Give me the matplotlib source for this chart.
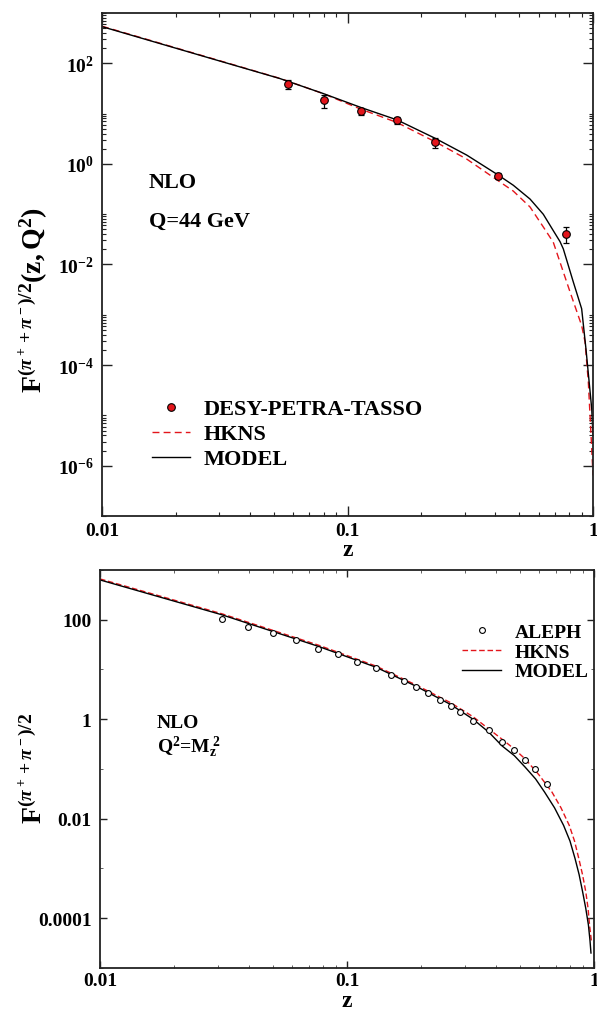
import numpy as np
import matplotlib
matplotlib.use('Agg')
from matplotlib import pyplot as plt
from matplotlib.ticker import FixedLocator, NullFormatter

plt.rcParams['font.family'] = ['Liberation Serif', 'DejaVu Serif']
plt.rcParams['font.weight'] = 'bold'
plt.rcParams['mathtext.fontset'] = 'custom'
plt.rcParams['mathtext.rm'] = 'Liberation Serif'
plt.rcParams['mathtext.bf'] = 'Liberation Serif:bold'
plt.rcParams['mathtext.it'] = 'Liberation Serif:italic'

# ---- top panel: Q = 44 GeV ----
tasso_z = [0.057, 0.080, 0.113, 0.159, 0.228, 0.411, 0.776]
tasso_f = [39.5, 18.2, 11.2, 7.3, 2.67, 0.573, 0.0405]
tasso_err = [8.0, 5.0, 1.8, 1.2, 0.6, 0.08, 0.014]

top_model_z = [0.01, 0.0251, 0.0531, 0.0795, 0.1135, 0.159, 0.228, 0.306, 0.411, 0.4735,
               0.554, 0.6275, 0.689, 0.734, 0.757, 0.831, 0.899, 0.936, 0.988, 1.0]
top_model_f = [535, 144, 49.6, 25.1, 13.2, 7.5, 3.21, 1.495, 0.60, 0.376,
               0.20, 0.0995, 0.0471, 0.0285, 0.0204, 0.00452, 0.00132, 2.11e-4, 1.36e-5, 3.97e-6]

top_hkns_z = [0.01, 0.0251, 0.0531, 0.0795, 0.1135, 0.159, 0.228, 0.306, 0.411, 0.4735,
              0.554, 0.6275, 0.689, 0.806, 0.899, 0.928, 0.957, 0.988, 1.0]
top_hkns_f = [545, 146, 50, 25, 12.2, 6.66, 2.74, 1.245, 0.462, 0.288,
              0.139, 0.0557, 0.0277, 0.00286, 6.13e-4, 2.91e-4, 4.69e-5, 2.19e-6, 6.4e-7]

# ---- bottom panel: Q^2 = Mz^2 ----
aleph_z = [0.0311, 0.0399, 0.0500, 0.0620, 0.0765, 0.0922, 0.110, 0.131, 0.150, 0.170,
           0.190, 0.212, 0.238, 0.263, 0.288, 0.324, 0.376, 0.424, 0.476, 0.527,
           0.577, 0.646]
aleph_f = [104.7, 70.2, 54.2, 39.8, 26.3, 20.0, 14.0, 10.5, 7.69, 5.83,
           4.43, 3.42, 2.43, 1.85, 1.40, 0.925, 0.611, 0.352, 0.243, 0.151,
           0.100, 0.050]

bot_model_z = [0.01, 0.0311, 0.0765, 0.131, 0.190, 0.263, 0.324, 0.376, 0.424, 0.476,
               0.527, 0.580, 0.631, 0.692, 0.753, 0.7995, 0.838, 0.870, 0.899, 0.926,
               0.949, 0.963, 0.972]
bot_model_f = [631, 126, 29.2, 11.1, 4.63, 1.97, 1.0, 0.542, 0.292, 0.185,
               0.108, 0.0631, 0.0342, 0.0166, 0.00735, 0.00355, 0.00158, 7.6e-4, 3.42e-4, 1.58e-4,
               7.35e-5, 3.6e-5, 2.0e-5]

bot_hkns_z = [0.01, 0.0311, 0.0765, 0.131, 0.190, 0.263, 0.324, 0.376, 0.424, 0.476,
              0.527, 0.599, 0.676, 0.735, 0.794, 0.834, 0.868, 0.898, 0.926, 0.946,
              0.959, 0.976]
bot_hkns_f = [661, 132, 30.9, 11.7, 4.9, 2.14, 1.12, 0.631, 0.398, 0.251,
              0.158, 0.0759, 0.0342, 0.0166, 0.00735, 0.00355, 0.00158, 7.6e-4, 3.42e-4, 1.58e-4,
              7.35e-5, 3.47e-5]

red = '#e3151b'

fig = plt.figure(figsize=(5.97, 10.12), dpi=100)
ax1 = fig.add_axes([0.1709, 0.4891, 0.8224, 0.4971])
ax2 = fig.add_axes([0.1675, 0.0425, 0.8275, 0.3933])

#top panel
ax1.errorbar(tasso_z, tasso_f, yerr=tasso_err, fmt='none', ecolor='black',
             elinewidth=0.9, capsize=2, capthick=0.9, zorder=4)
ax1.plot(tasso_z, tasso_f, 'o', ms=5.5, mfc=red, mec='black', mew=0.8,
         label='DESY-PETRA-TASSO', zorder=5)
ax1.plot(top_hkns_z, top_hkns_f, color=red, lw=1.0, dashes=(5, 3), label='HKNS')
ax1.plot(top_model_z, top_model_f, color='black', lw=1.0, label='MODEL')

ax1.set_xscale('log')
ax1.set_yscale('log')
ax1.set_xlim(0.01, 1)
ax1.set_ylim(1e-7, 1e3)

ax1.yaxis.set_major_locator(FixedLocator([1e-6, 1e-4, 1e-2, 1, 1e2]))
ax1.set_yticklabels([r'$\mathbf{10^{-6}}$', r'$\mathbf{10^{-4}}$', r'$\mathbf{10^{-2}}$',
                     r'$\mathbf{10^{0}}$', r'$\mathbf{10^{2}}$'])
minor_y = [k * 10.0**e for e in [-8, -6, -4, -2, 0, 2] for k in range(2, 11)]
ax1.yaxis.set_minor_locator(FixedLocator(minor_y))
ax1.yaxis.set_minor_formatter(NullFormatter())

ax1.text(0.0957, 0.664, 'NLO', transform=ax1.transAxes, fontsize=16, va='center')
ax1.text(0.0957, 0.586, 'Q=44 GeV', transform=ax1.transAxes, fontsize=16, va='center')
ax1.set_xlabel(r'$\mathbf{z}$', fontsize=17, labelpad=0.5)
ax1.set_ylabel(r'$\mathbf{F}^{(\pi^+ + \pi^-)/2}\mathbf{(z,Q^2)}$', fontsize=20)
ax1.yaxis.set_label_coords(-0.106, 0.431)

ax1.legend(loc='center left', bbox_to_anchor=(0.102, 0.163), frameon=False,
           fontsize=16, borderpad=0, borderaxespad=0, handlelength=1.7,
           handletextpad=0.6, labelspacing=0.2)

#bottom panel
ax2.plot(aleph_z, aleph_f, 'o', ms=4.2, mfc='white', mec='black', mew=0.8,
         label='ALEPH', zorder=5)
ax2.plot(bot_hkns_z, bot_hkns_f, color=red, lw=1.0, dashes=(4, 2), label='HKNS')
ax2.plot(bot_model_z, bot_model_f, color='black', lw=1.0, label='MODEL')

ax2.set_xscale('log')
ax2.set_yscale('log')
ax2.set_xlim(0.01, 1)
ax2.set_ylim(1e-5, 1e3)
ax2.yaxis.set_major_locator(FixedLocator([1e-4, 1e-2, 1, 1e2]))
ax2.set_yticklabels(['0.0001', '0.01', '1', '100'])
ax2.yaxis.set_minor_locator(FixedLocator([1e-5, 1e-3, 1e-1, 10, 1e3]))
ax2.yaxis.set_minor_formatter(NullFormatter())

ax2.text(0.115, 0.618, 'NLO', transform=ax2.transAxes, fontsize=14, va='center')
ax2.text(0.115, 0.558, r'$\mathbf{Q^{2}}$=$\mathbf{M_{z}^{\ 2}}$', transform=ax2.transAxes,
         fontsize=14, va='center')
ax2.set_xlabel(r'$\mathbf{z}$', fontsize=17, labelpad=0.5)
ax2.set_ylabel(r'$\mathbf{F}^{(\pi^+ + \pi^-)/2}$', fontsize=20)
ax2.yaxis.set_label_coords(-0.105, 0.505)

ax2.legend(loc='center left', bbox_to_anchor=(0.733, 0.794), frameon=False,
           fontsize=14, borderpad=0, borderaxespad=0, handlelength=2.0,
           handletextpad=0.7, labelspacing=0.1)

for ax in (ax1, ax2):
    ax.xaxis.set_major_locator(FixedLocator([0.01, 0.1, 1]))
    ax.set_xticklabels(['0.01', '0.1', '1'])
    ax.xaxis.set_minor_locator(FixedLocator([k * 10.0**e for e in [-2, -1] for k in range(2, 10)]))
    ax.xaxis.set_minor_formatter(NullFormatter())
    ax.tick_params(which='both', direction='in', top=True, right=True, labelsize=14, colors='#222222')
    ax.tick_params(which='major', length=7, width=1.0, pad=6)
    ax.tick_params(which='minor', length=3, width=0.8)
    for s in ax.spines.values():
        s.set_linewidth(1.3)
        s.set_color('#222222')
    for lab in ax.get_xticklabels() + ax.get_yticklabels():
        lab.set_fontweight('bold')
        lab.set_color('black')

ax1.tick_params(axis='x', which='major', pad=4)
ax2.tick_params(which='major', length=5)
ax2.tick_params(which='minor', length=2, width=0.5)
ax2.tick_params(axis='x', which='major', pad=3)

fig.savefig('out.png', dpi=100)
